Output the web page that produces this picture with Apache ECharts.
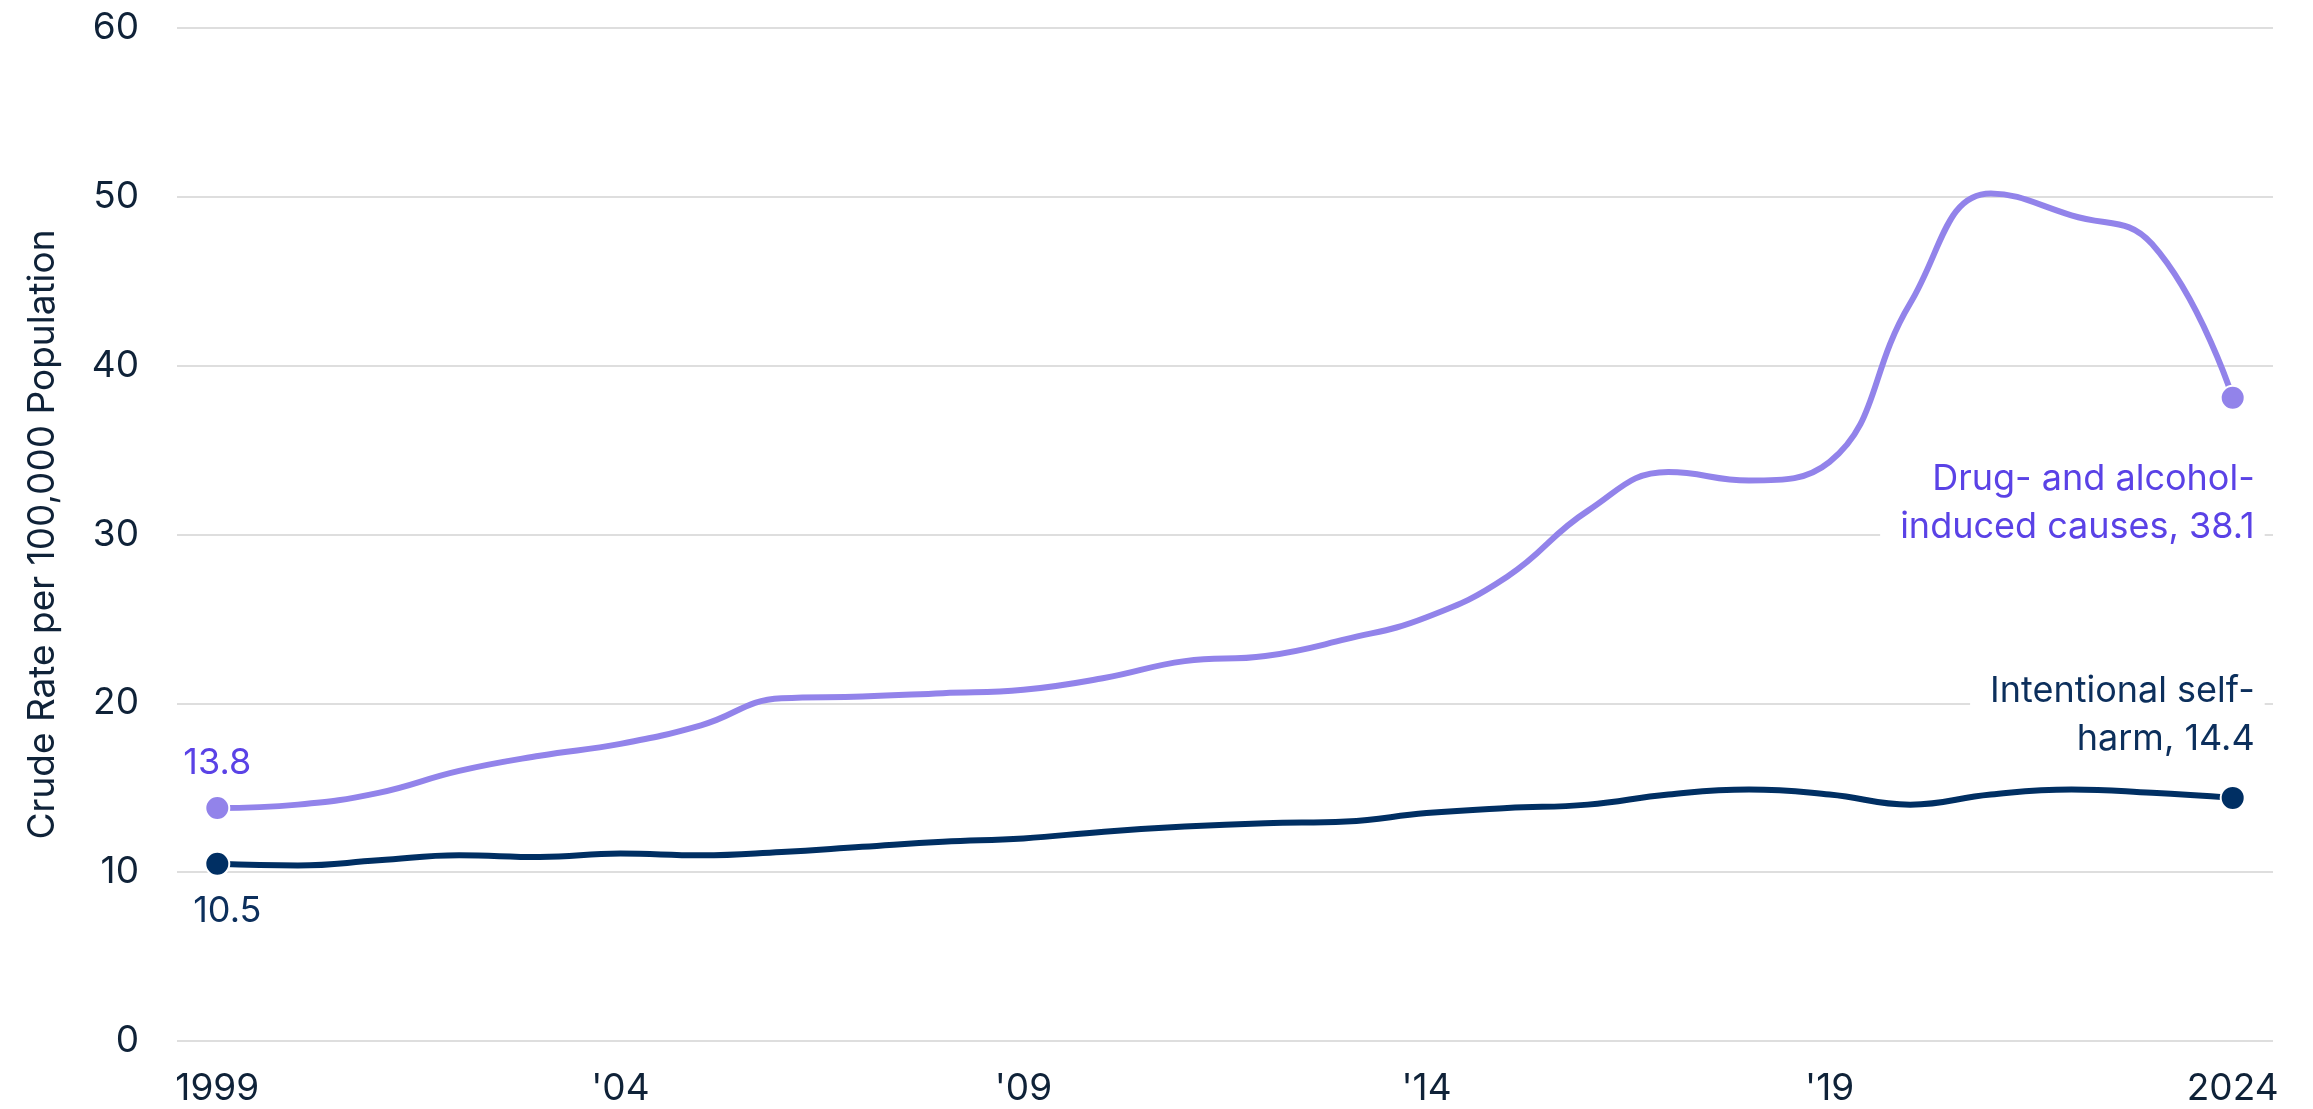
<!DOCTYPE html>
<html>
<head>
<meta charset="utf-8">
<title>Crude death rates, 1999–2024</title>
<script src="https://cdn.jsdelivr.net/npm/echarts@6/dist/echarts.min.js"></script>
<style>
  html, body { margin: 0; padding: 0; background: #ffffff; }
  #chart { width: 2313px; height: 1109px; }
</style>
</head>
<body>
<div id="chart"></div>
<script>
// Years on the horizontal axis
const years = ['1999','2000','2001','2002','2003','2004','2005','2006','2007','2008','2009','2010','2011',
               '2012','2013','2014','2015','2016','2017','2018','2019','2020','2021','2022','2023','2024'];

// Labels shown every fifth year
const xTickLabels = ['1999', "'04", "'09", "'14", "'19", '2024'];

// Crude rate per 100,000 population
const drugAlcohol = [13.8, 14.0, 14.7, 16.0, 16.9, 17.6, 18.7, 20.3, 20.4, 20.6, 20.8, 21.5, 22.5,
                     22.8, 23.8, 25.1, 27.5, 31.4, 33.7, 33.2, 34.3, 43.7, 50.2, 48.9, 47.2, 38.1];
const selfHarm    = [10.5, 10.4, 10.7, 11.0, 10.9, 11.1, 11.0, 11.2, 11.5, 11.8, 12.0, 12.4, 12.7,
                     12.9, 13.0, 13.5, 13.8, 14.0, 14.6, 14.9, 14.6, 14.0, 14.6, 14.9, 14.7, 14.4];

// End-of-line label text, split across two lines
const drugAlcoholLines = ['Drug- and alcohol-', 'induced causes, '];
const selfHarmLines    = ['Intentional self-', 'harm, '];

const FONT = 'Inter';
const INK = '#0f2238';
const NAVY = '#002f63';
const NAVY_TEXT = '#0c2f5c';
const LAVENDER = '#9283ea';
const VIOLET_TEXT = '#5a42e6';

function endpointData(values, startLabel, endLabel) {
  return values.map((v, i) => {
    if (i === 0) {
      return { value: v, symbol: 'circle', symbolSize: 24, label: startLabel };
    }
    if (i === values.length - 1) {
      return { value: v, symbol: 'circle', symbolSize: 24, label: endLabel };
    }
    return { value: v, symbol: 'none' };
  });
}

const chart = echarts.init(document.getElementById('chart'), null, { renderer: 'canvas' });

const option = {
  backgroundColor: '#ffffff',
  animation: false,
  grid: { left: 177, right: 40, top: 28, bottom: 68, containLabel: false },
  xAxis: {
    type: 'category',
    data: years,
    boundaryGap: true,
    axisLine: { show: false },
    axisTick: { show: false },
    splitLine: { show: false },
    axisLabel: {
      interval: 4,
      margin: 29,
      color: INK,
      fontFamily: FONT,
      fontSize: 37,
      formatter: (val, idx) => (idx % 5 === 0 ? xTickLabels[idx / 5] : '')
    }
  },
  yAxis: {
    type: 'value',
    min: 0,
    max: 60,
    interval: 10,
    name: 'Crude Rate per 100,000 Population',
    nameLocation: 'middle',
    nameGap: 116,
    nameTextStyle: { color: INK, fontFamily: FONT, fontSize: 37 },
    axisLine: { show: false },
    axisTick: { show: false },
    axisLabel: { margin: 38, color: INK, fontFamily: FONT, fontSize: 37 },
    splitLine: { show: true, lineStyle: { color: '#dedede', width: 2 } }
  },
  series: [
    {
      name: 'Intentional self-harm',
      type: 'line',
      smooth: 0.45,
      z: 3,
      showSymbol: true,
      lineStyle: { color: NAVY, width: 6 },
      itemStyle: { color: NAVY, borderColor: '#ffffff', borderWidth: 2 },
      data: endpointData(selfHarm,
        {
          show: true, position: 'bottom', distance: 16, offset: [10, 0],
          color: NAVY_TEXT, fontFamily: FONT, fontSize: 36,
          formatter: p => String(p.value)
        },
        {
          show: true, position: 'top', align: 'right', verticalAlign: 'bottom',
          distance: 5, offset: [32, -13],
          color: NAVY_TEXT, fontFamily: FONT, fontSize: 36, lineHeight: 48,
          backgroundColor: '#ffffff', padding: [4, 10, 4, 20],
          formatter: p => selfHarmLines[0] + '\n' + selfHarmLines[1] + p.value
        })
    },
    {
      name: 'Drug- and alcohol-induced causes',
      type: 'line',
      smooth: 0.45,
      z: 4,
      showSymbol: true,
      lineStyle: { color: LAVENDER, width: 6 },
      itemStyle: { color: LAVENDER, borderColor: '#ffffff', borderWidth: 2 },
      data: endpointData(drugAlcohol,
        {
          show: true, position: 'top', distance: 14,
          color: VIOLET_TEXT, fontFamily: FONT, fontSize: 36,
          formatter: p => String(p.value)
        },
        {
          show: true, position: 'bottom', align: 'right', verticalAlign: 'top',
          distance: 5, offset: [32, 35],
          color: VIOLET_TEXT, fontFamily: FONT, fontSize: 36, lineHeight: 48,
          backgroundColor: '#ffffff', padding: [4, 10, 4, 20],
          formatter: p => drugAlcoholLines[0] + '\n' + drugAlcoholLines[1] + p.value
        })
    }
  ]
};

chart.setOption(option);
</script>
</body>
</html>
